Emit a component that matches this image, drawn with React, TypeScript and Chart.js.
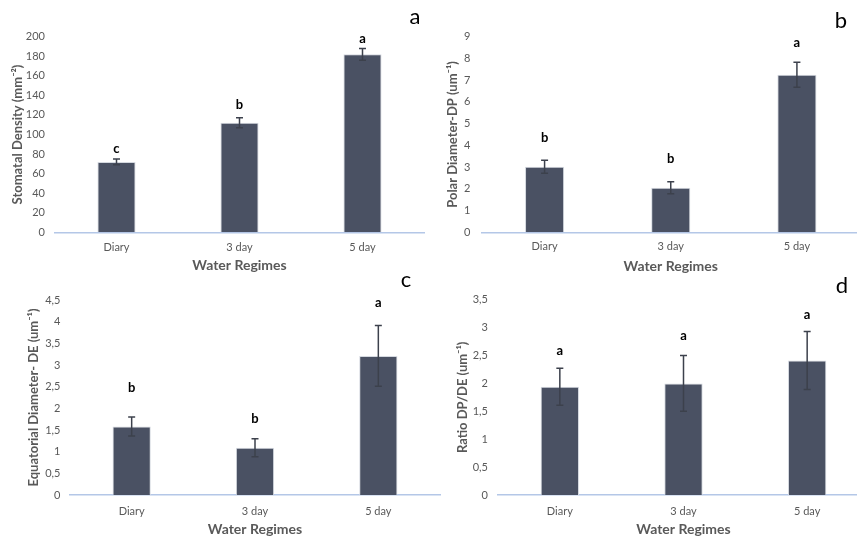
import React, { useEffect, useRef } from "react";
import { Chart, registerables } from "chart.js";

Chart.register(...registerables);

// ---------- data ----------
const categories = ["Diary", "3 day", "5 day"];

const densityValues = [72, 112, 182];
const densityErrors = [3, 5, 6];
const densityLetters = ["c", "b", "a"];
const densityLetterLevels = [85, 130, 198];
const densityMax = 200;
const densityStep = 20;

const polarValues = [3.02, 2.05, 7.25];
const polarErrors = [0.3, 0.28, 0.58];
const polarLetters = ["b", "b", "a"];
const polarLetterLevels = [4.34, 3.37, 8.74];
const polarMax = 9;
const polarStep = 1;

const equatorialValues = [1.58, 1.09, 3.21];
const equatorialErrors = [0.22, 0.21, 0.7];
const equatorialLetters = ["b", "b", "a"];
const equatorialLetterLevels = [2.48, 1.76, 4.44];
const equatorialMax = 4.5;
const equatorialStep = 0.5;

const ratioValues = [1.94, 2.0, 2.41];
const ratioErrors = [0.33, 0.5, 0.52];
const ratioLetters = ["a", "a", "a"];
const ratioLetterLevels = [2.58, 2.85, 3.23];
const ratioMax = 3.5;
const ratioStep = 0.5;

const xTitle = "Water Regimes";

// ---------- styles ----------
const FONT = "Lato, 'Open Sans', 'DejaVu Sans', sans-serif";
const BAR_COLOR = "#4a5163";
const BAR_BORDER = "#d5d9e0";
const ERR_COLOR = "#3c414c";
const AXIS_COLOR = "#b4c7e7";
const TICK_COLOR = "#595959";
const Y_TITLE_SIZE = 13;
const X_TITLE_SIZE = 14;
const TICK_SIZE = 11;

type Panel = {
  tag: string;
  yTitle: string;
  values: number[];
  errors: number[];
  letters: string[];
  levels: number[];
  max: number;
  step: number;
  canvas: { left: number; top: number; w: number; h: number };
  area: { l: number; t: number; r: number; b: number };
  yTitleX: number;
  xTitleY: number;
  xTickPad: number;
  yTickPad: number;
  tagPos: [number, number];
};

const panels: Panel[] = [
  {
    tag: "a",
    yTitle: "Stomatal Density (mm\u207B\u00B2)",
    values: densityValues,
    errors: densityErrors,
    letters: densityLetters,
    levels: densityLetterLevels,
    max: densityMax,
    step: densityStep,
    canvas: { left: 0, top: 0, w: 440, h: 275 },
    area: { l: 55, t: 36.7, r: 424, b: 232.3 },
    yTitleX: 17.5,
    xTitleY: 265.5,
    xTickPad: 9,
    yTickPad: 10,
    tagPos: [415, 17],
  },
  {
    tag: "b",
    yTitle: "Polar Diameter-DP (um\u207B\u00B9)",
    values: polarValues,
    errors: polarErrors,
    letters: polarLetters,
    levels: polarLetterLevels,
    max: polarMax,
    step: polarStep,
    canvas: { left: 430, top: 0, w: 440, h: 275 },
    area: { l: 481.5, t: 36.7, r: 860, b: 232.3 },
    yTitleX: 453,
    xTitleY: 266,
    xTickPad: 8,
    yTickPad: 11,
    tagPos: [841, 21],
  },
  {
    tag: "c",
    yTitle: "Equatorial Diameter- DE (um\u207B\u00B9)",
    values: equatorialValues,
    errors: equatorialErrors,
    letters: equatorialLetters,
    levels: equatorialLetterLevels,
    max: equatorialMax,
    step: equatorialStep,
    canvas: { left: 0, top: 270, w: 450, h: 268 },
    area: { l: 70, t: 300, r: 440, b: 495 },
    yTitleX: 34,
    xTitleY: 530,
    xTickPad: 10,
    yTickPad: 9.5,
    tagPos: [406, 280],
  },
  {
    tag: "d",
    yTitle: "Ratio DP/DE (um\u207B\u00B9)",
    values: ratioValues,
    errors: ratioErrors,
    letters: ratioLetters,
    levels: ratioLetterLevels,
    max: ratioMax,
    step: ratioStep,
    canvas: { left: 430, top: 270, w: 450, h: 268 },
    area: { l: 498, t: 299.7, r: 869, b: 495 },
    yTitleX: 462.5,
    xTitleY: 530.5,
    xTickPad: 9.5,
    yTickPad: 10,
    tagPos: [842, 286],
  },
];

function PanelChart({ p }: { p: Panel }) {
  const ref = useRef<HTMLCanvasElement | null>(null);

  useEffect(() => {
    if (!ref.current) return;
    const c = p.canvas;
    const lhY = Y_TITLE_SIZE * 1.2;
    const lhX = X_TITLE_SIZE * 1.2;
    const pad = {
      left: p.yTitleX - c.left - lhY / 2,
      top: p.area.t - c.top,
      right: c.left + c.w - p.area.r,
      bottom: Math.max(0, c.top + c.h - p.xTitleY - lhX / 2),
    };
    const yWidth = p.area.l - c.left - pad.left;
    const xHeight = c.top + c.h - pad.bottom - p.area.b;

    const annot = {
      id: "annot" + p.tag,
      afterDatasetsDraw(chart: any) {
        const ctx = chart.ctx as CanvasRenderingContext2D;
        const meta = chart.getDatasetMeta(0);
        const ys = chart.scales.y;
        ctx.save();
        meta.data.forEach((bar: any, i: number) => {
          const x = bar.x;
          const v = p.values[i];
          const e = p.errors[i];
          const yt = ys.getPixelForValue(v + e);
          const yb = ys.getPixelForValue(v - e);
          ctx.strokeStyle = ERR_COLOR;
          ctx.lineWidth = 1.5;
          ctx.beginPath();
          ctx.moveTo(x, yt);
          ctx.lineTo(x, yb);
          ctx.moveTo(x - 3.5, yt);
          ctx.lineTo(x + 3.5, yt);
          ctx.moveTo(x - 3.5, yb);
          ctx.lineTo(x + 3.5, yb);
          ctx.stroke();
          ctx.fillStyle = "#000";
          ctx.font = `bold 13px ${FONT}`;
          ctx.textAlign = "center";
          ctx.textBaseline = "middle";
          ctx.fillText(p.letters[i], x, ys.getPixelForValue(p.levels[i]));
        });
        ctx.fillStyle = "#000";
        ctx.font = `22px ${FONT}`;
        ctx.textAlign = "center";
        ctx.textBaseline = "middle";
        ctx.fillText(p.tag, p.tagPos[0] - c.left, p.tagPos[1] - c.top);
        ctx.restore();
      },
    };

    const chart = new Chart(ref.current, {
      type: "bar",
      data: {
        labels: categories,
        datasets: [
          {
            data: p.values,
            backgroundColor: BAR_COLOR,
            borderColor: BAR_BORDER,
            borderWidth: 1,
            barPercentage: 0.31,
            categoryPercentage: 1,
          },
        ],
      },
      options: {
        animation: false,
        responsive: false,
        devicePixelRatio: 1,
        layout: { padding: pad },
        plugins: {
          legend: { display: false },
          tooltip: { enabled: false },
          title: { display: false },
        },
        scales: {
          x: {
            grid: { display: false, drawTicks: false },
            border: { display: true, color: AXIS_COLOR, width: 1.5 },
            ticks: {
              color: TICK_COLOR,
              font: { family: FONT, size: TICK_SIZE },
              padding: p.xTickPad,
            },
            title: {
              display: true,
              text: xTitle,
              color: TICK_COLOR,
              font: { family: FONT, size: X_TITLE_SIZE, weight: "bold" },
              padding: 0,
            },
            afterFit: (s: any) => {
              s.height = xHeight;
            },
          },
          y: {
            min: 0,
            max: p.max,
            grid: { display: false, drawTicks: false },
            border: { display: false },
            ticks: {
              stepSize: p.step,
              color: TICK_COLOR,
              font: { family: FONT, size: TICK_SIZE },
              padding: p.yTickPad,
              callback: (v: any) => String(+Number(v).toFixed(2)).replace(".", ","),
            },
            title: {
              display: true,
              text: p.yTitle,
              color: TICK_COLOR,
              font: { family: FONT, size: Y_TITLE_SIZE, weight: "bold" },
              padding: 0,
            },
            afterFit: (s: any) => {
              s.width = yWidth;
            },
          },
        },
      },
      plugins: [annot],
    });
    return () => chart.destroy();
  }, [p]);

  return (
    <canvas
      ref={ref}
      width={p.canvas.w}
      height={p.canvas.h}
      style={{
        position: "absolute",
        left: p.canvas.left,
        top: p.canvas.top,
        width: p.canvas.w,
        height: p.canvas.h,
      }}
    />
  );
}

export default function App() {
  return (
    <div
      style={{
        position: "fixed",
        left: 0,
        top: 0,
        width: 857,
        height: 538,
        overflow: "hidden",
        background: "#fff",
      }}
    >
      {panels.map((p) => (
        <PanelChart key={p.tag} p={p} />
      ))}
    </div>
  );
}
